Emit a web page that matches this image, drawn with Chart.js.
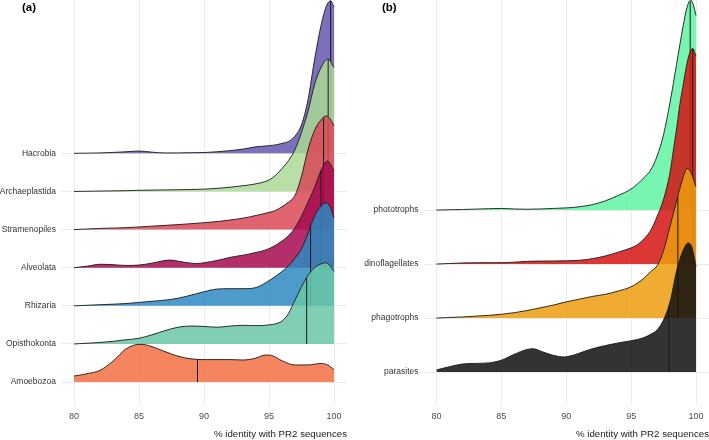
<!DOCTYPE html>
<html>
<head>
<meta charset="utf-8">
<script src="https://cdn.jsdelivr.net/npm/chart.js@4.4.0/dist/chart.umd.min.js"></script>
<style>
  html, body { margin: 0; padding: 0; background: #fff; }
  #wrap { position: relative; width: 709px; height: 440px; font-family: "Liberation Sans", Arial, sans-serif; }
  canvas { position: absolute; top: 0; }
  .tag { position: absolute; top: 1px; font-weight: bold; font-size: 11.5px; line-height: 13px; color: #000; }
</style>
</head>
<body>
<div id="wrap">
  <canvas id="chartA" width="354" height="440" style="left:0"></canvas>
  <canvas id="chartB" width="355" height="440" style="left:354px"></canvas>
  <div class="tag" style="left:22px">(a)</div>
  <div class="tag" style="left:382px">(b)</div>
</div>
<script>
// Ridgeline density plots, % identity with PR2 sequences

// shared x axis
const xTicks = [80, 85, 90, 95, 100];

// Panel (a): taxonomic groups, bottom row first
const groupsA = ['Amoebozoa', 'Opisthokonta', 'Rhizaria', 'Alveolata', 'Stramenopiles', 'Archaeplastida', 'Hacrobia'];
const mediansA = [89.5, 97.9, 98.2, 99.0, 99.2, 99.55, 99.74];

// density curves as [identity, height in rows]
const amoebozoa = [[80,0.16],[81,0.22],[82,0.31],[83,0.55],[84,0.87],[85,0.99],[85.5,0.98],[86,0.93],[87,0.8],[88,0.68],[89,0.61],[90,0.59],[91,0.59],[92,0.59],[93,0.58],[94,0.63],[94.7,0.71],[95.2,0.7],[96,0.56],[97,0.45],[98,0.45],[99,0.49],[99.5,0.45],[100,0.33]];
const opisthokonta = [[80,0],[81,0.02],[82,0.04],[83,0.07],[84,0.11],[85,0.15],[86,0.24],[87,0.35],[88,0.44],[89,0.47],[90,0.46],[91,0.44],[92,0.47],[93,0.49],[94,0.48],[95,0.5],[95.5,0.53],[96,0.6],[96.5,0.8],[97,1.15],[97.5,1.5],[98,1.8],[98.5,2.0],[99,2.1],[99.35,2.13],[99.7,2.05],[100,1.9]];
const rhizaria = [[80,0],[82,0.03],[84,0.06],[85,0.09],[86,0.12],[87,0.15],[88,0.2],[89,0.28],[90,0.37],[91,0.44],[92,0.45],[93,0.45],[94,0.48],[95,0.66],[96,0.9],[96.5,1.05],[97,1.25],[97.5,1.5],[98,1.9],[98.5,2.35],[99,2.62],[99.4,2.7],[99.7,2.6],[100,2.31]];
const alveolata = [[80,0],[81,0.04],[82,0.09],[83,0.08],[84,0.06],[85,0.07],[86,0.12],[87,0.19],[87.5,0.2],[88,0.17],[89,0.12],[89.5,0.11],[90,0.13],[91,0.19],[92,0.27],[93,0.33],[94,0.4],[95,0.5],[96,0.7],[96.5,0.84],[97,1.05],[97.5,1.35],[98,1.72],[98.5,2.1],[99,2.55],[99.5,2.8],[100,2.54]];
const stramenopiles = [[80,0],[82,0.03],[84,0.05],[85,0.07],[86,0.09],[88,0.13],[90,0.18],[91,0.21],[92,0.25],[93,0.3],[94,0.37],[95,0.45],[95.5,0.5],[96,0.6],[96.5,0.72],[97,0.9],[97.5,1.4],[98,2.1],[98.5,2.6],[99,2.88],[99.4,2.98],[99.7,2.9],[100,2.72]];
const archaeplastida = [[80,0],[82,0.01],[84,0.02],[85,0.03],[86,0.035],[88,0.045],[90,0.06],[91,0.08],[92,0.11],[93,0.15],[94,0.2],[95,0.3],[95.5,0.42],[96,0.6],[96.5,0.81],[97,1.1],[97.5,1.55],[98,2.1],[98.5,2.8],[99,3.25],[99.55,3.47],[100,3.25]];
const hacrobia = [[80,0],[82,0.01],[84,0.04],[85,0.06],[86,0.03],[87,0.01],[88,0.01],[89,0.015],[90,0.02],[91,0.04],[92,0.07],[93,0.11],[94,0.17],[95,0.2],[95.5,0.22],[96,0.26],[96.5,0.31],[97,0.45],[97.5,0.75],[98,1.4],[98.5,2.45],[99,3.35],[99.4,3.85],[99.75,4.0],[100,3.83]];

// Panel (b): trophic groups, bottom row first
const groupsB = ['parasites', 'phagotrophs', 'dinoflagellates', 'phototrophs'];
const mediansB = [97.9, 98.6, 99.75, 99.55];

const parasites = [[80,0.04],[81,0.1],[82,0.15],[83,0.16],[84,0.17],[85,0.22],[86,0.33],[87,0.42],[87.5,0.43],[88,0.39],[89,0.31],[89.8,0.28],[90.5,0.31],[91,0.35],[92,0.43],[93,0.49],[94,0.54],[95,0.58],[96,0.64],[96.5,0.7],[97,0.78],[97.5,0.97],[98,1.3],[98.5,1.87],[99,2.25],[99.4,2.39],[99.7,2.3],[100,1.95]];
const phagotrophs = [[80,0],[82,0.02],[84,0.05],[85,0.07],[86,0.1],[87,0.14],[88,0.19],[89,0.24],[90,0.3],[91,0.35],[92,0.4],[93,0.44],[94,0.5],[95,0.58],[96,0.74],[96.5,0.86],[97,0.97],[97.5,1.25],[98,1.7],[98.5,2.17],[99,2.6],[99.3,2.77],[99.6,2.7],[100,2.43]];
const dinoflagellates = [[80,0],[81,0.01],[82,0.02],[84,0.025],[85,0.025],[86,0.035],[87,0.05],[88,0.055],[90,0.06],[91,0.07],[92,0.1],[93,0.15],[94,0.22],[95,0.3],[95.5,0.36],[96,0.47],[96.5,0.62],[97,0.88],[97.5,1.2],[98,1.7],[98.25,2.1],[98.5,2.5],[98.75,2.95],[99,3.3],[99.25,3.65],[99.5,3.9],[99.75,3.99],[100,3.85]];
const phototrophs = [[80,0],[82,0.01],[84,0.025],[85,0.03],[86,0.02],[87,0.015],[88,0.02],[89,0.03],[90,0.04],[91,0.06],[92,0.1],[93,0.17],[94,0.27],[95,0.39],[96,0.6],[96.5,0.74],[97,1.0],[97.5,1.4],[98,2.0],[98.5,2.7],[99,3.4],[99.3,3.75],[99.6,3.89],[99.8,3.8],[100,3.6]];

// colours
const coloursA = ['rgba(243,112,67,0.85)', 'rgba(106,199,167,0.85)', 'rgba(46,137,194,0.85)', 'rgba(167,10,80,0.85)', 'rgba(217,73,87,0.85)', 'rgba(172,217,150,0.85)', 'rgba(100,87,175,0.85)'];
const coloursB = ['rgba(15,15,15,0.85)', 'rgba(237,157,14,0.85)', 'rgba(212,20,18,0.85)', 'rgba(96,243,162,0.85)'];

const FONT = '"Liberation Sans", Arial, sans-serif';
const GRID = '#ebebeb';
const INK = '#1a1a1a';

// density height at x (linear between read points)
function heightAt(curve, x) {
    for (let i = 1; i < curve.length; i++) {
        const [x0, y0] = curve[i - 1];
        const [x1, y1] = curve[i];
        if (x >= x0 && x <= x1) {
            return y0 + (y1 - y0) * (x - x0) / (x1 - x0);
        }
    }
    return 0;
}

// no extra room for edge labels, keep the panel exactly where ggplot put it
function noEdgePadding(axis) {
    axis.paddingTop = 0;
    axis.paddingBottom = 0;
    axis.paddingLeft = 0;
    axis.paddingRight = 0;
}

function ridgeChart(canvasId, groups, curves, medians, colours, yMin, yMax, yAxisWidth, rightPad) {
    const datasets = [];
    curves.forEach((curve, i) => {
        // ridge: lower rows are drawn over upper rows
        datasets.push({
            data: curve.map(p => ({ x: p[0], y: i + p[1] })),
            borderColor: INK,
            borderWidth: 0.9,
            backgroundColor: colours[i],
            fill: { value: i },
            pointRadius: 0,
            cubicInterpolationMode: 'monotone',
            order: 2 * i + 1
        });
        // median line
        datasets.push({
            data: [{ x: medians[i], y: i }, { x: medians[i], y: i + heightAt(curve, medians[i]) }],
            borderColor: INK,
            borderWidth: 1,
            pointRadius: 0,
            fill: false,
            order: 2 * i
        });
    });

    return new Chart(document.getElementById(canvasId), {
        type: 'line',
        data: { datasets: datasets },
        options: {
            responsive: false,
            animation: false,
            layout: { padding: { top: 0, right: rightPad, bottom: 0, left: 0 } },
            plugins: { legend: { display: false }, tooltip: { enabled: false } },
            scales: {
                x: {
                    type: 'linear',
                    min: 79,
                    max: 101,
                    afterBuildTicks: axis => { axis.ticks = xTicks.map(v => ({ value: v })); },
                    afterFit: axis => { axis.height = 35; noEdgePadding(axis); },
                    grid: { color: GRID, lineWidth: 1, drawTicks: false },
                    border: { display: false },
                    ticks: { padding: 6, color: '#4d4d4d', font: { family: FONT, size: 9 } },
                    title: {
                        display: true,
                        text: '% identity with PR2 sequences',
                        align: 'end',
                        color: INK,
                        padding: { top: 0, bottom: 0 },
                        font: { family: FONT, size: 9.7 }
                    }
                },
                y: {
                    type: 'linear',
                    min: yMin,
                    max: yMax,
                    afterBuildTicks: axis => { axis.ticks = groups.map((g, i) => ({ value: i })); },
                    afterFit: axis => { axis.width = yAxisWidth; noEdgePadding(axis); },
                    grid: { color: GRID, lineWidth: 1, drawTicks: false },
                    border: { display: false },
                    ticks: {
                        padding: 5,
                        color: '#333',
                        font: { family: FONT, size: 8.5 },
                        callback: value => groups[value]
                    }
                }
            }
        }
    });
}

ridgeChart('chartA', groupsA,
    [amoebozoa, opisthokonta, rhizaria, alveolata, stramenopiles, archaeplastida, hacrobia],
    mediansA, coloursA, -0.6, 10.02, 61, 7);

ridgeChart('chartB', groupsB,
    [parasites, phagotrophs, dinoflagellates, phototrophs],
    mediansB, coloursB, -0.61, 6.89, 69.5, 0);
</script>
</body>
</html>
